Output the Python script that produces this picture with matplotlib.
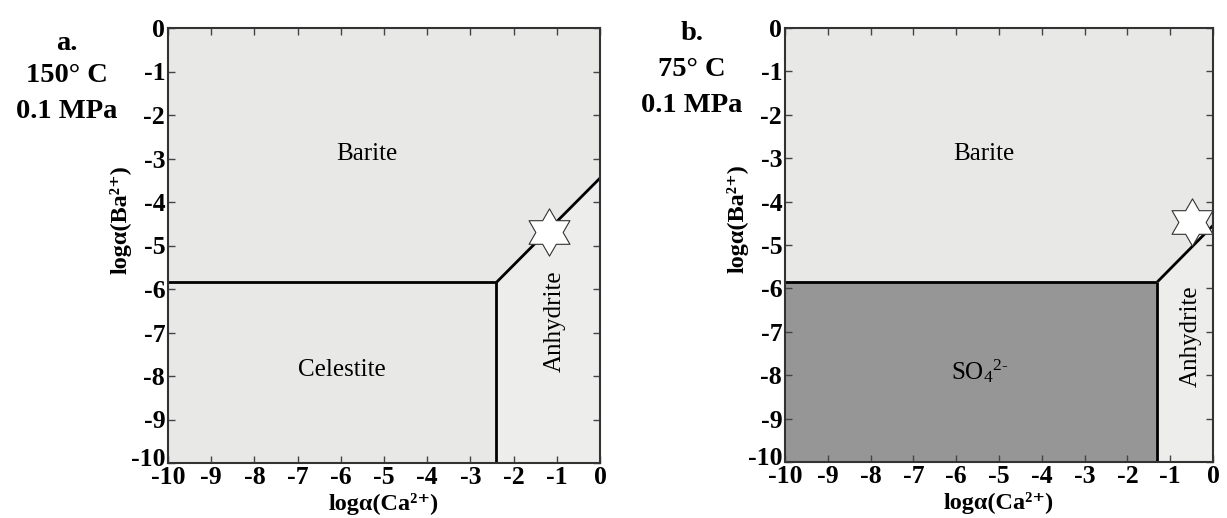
import numpy as np
import matplotlib
matplotlib.use('Agg')
import matplotlib.pyplot as plt
from matplotlib.path import Path
from matplotlib.transforms import ScaledTranslation

plt.rcParams['font.family'] = ['Liberation Serif', 'DejaVu Serif']
plt.rcParams['mathtext.fontset'] = 'custom'
plt.rcParams['mathtext.rm'] = 'Liberation Serif'
plt.rcParams['mathtext.it'] = 'Liberation Serif:italic'
plt.rcParams['mathtext.bf'] = 'Liberation Serif:bold'

# panel a (150 C): boundary lines
a_horiz_x = [-10, -2.4]
a_horiz_y = [-5.85, -5.85]
a_vert_x = [-2.4, -2.4]
a_vert_y = [-5.85, -10]
a_diag_x = [-2.4, 0]
a_diag_y = [-5.85, -3.45]
a_star = (-1.18, -4.69)

# panel b (75 C)
b_horiz_x = [-10, -1.3]
b_horiz_y = [-5.85, -5.85]
b_vert_x = [-1.3, -1.3]
b_vert_y = [-5.85, -10]
b_diag_x = [-1.3, 0]
b_diag_y = [-5.85, -4.55]
b_star = (-0.5, -4.48)

ticks = list(range(-10, 1))
tick_labels = ['-10', '-9', '-8', '-7', '-6', '-5', '-4', '-3', '-2', '-1', '0']

light = '#e8e8e6'
anhy = '#ededec'
dark = '#969696'

# six-pointed star marker (hexagram)
ang = np.pi / 2 + np.arange(12) * np.pi / 6
rad = np.where(np.arange(12) % 2 == 0, 1.0, 1 / np.sqrt(3))
star_verts = np.column_stack([rad * np.cos(ang), rad * np.sin(ang)])
star_marker = Path(np.vstack([star_verts, star_verts[:1]]), closed=True)

fig = plt.figure(figsize=(12.27, 5.18), dpi=100)
W, H = 1227, 518
axa = fig.add_axes([168 / W, (518 - 463) / H, 432 / W, 435 / H])
axb = fig.add_axes([785 / W, (518 - 462) / H, 428 / W, 434 / H])


def draw(ax, hx, hy, vx, vy, dx, dy, star, lower_color, lower_label, lower_pos, barite_pos, anhy_pos):
    ax.set_xlim(-10, 0)
    ax.set_ylim(-10, 0)
    ax.fill_between([-10, 0], -10, 0, color=light, zorder=-1)
    # lower-left field
    ax.fill([-10, vx[0], vx[0], -10], [-10, -10, hy[0], hy[0]], color=lower_color, zorder=0)
    # anhydrite field
    ax.fill([vx[0], 0, 0, dx[0]], [-10, -10, dy[1], dy[0]], color=anhy, zorder=0)
    for xs, ys in [(hx, hy), (vx, vy), (dx, dy)]:
        ax.plot(xs, ys, color='black', lw=2, zorder=2, solid_capstyle='butt')
    ax.plot(star[0], star[1], marker=star_marker, ms=34, mfc='white', mec='#333333', mew=0.8, zorder=3,
            clip_on=False)
    ax.text(barite_pos[0], barite_pos[1], 'Barite', fontsize=18, ha='center', va='center')
    ax.text(lower_pos[0], lower_pos[1], lower_label, fontsize=18, ha='center', va='center')
    ax.text(anhy_pos[0], anhy_pos[1], 'Anhydrite', fontsize=18, rotation=90, ha='center', va='center')
    ax.set_xticks(ticks)
    ax.set_yticks(ticks)
    ax.set_xticklabels(tick_labels)
    ax.set_yticklabels(tick_labels)
    ax.tick_params(direction='in', length=5, width=1, top=True, right=True, labelsize=18.5, pad=2,
                   color='#444444')
    for lab in ax.get_xticklabels() + ax.get_yticklabels():
        lab.set_fontweight('bold')
    # lift the bottom y label a little so it clears the x "-10"
    lab = ax.yaxis.get_major_ticks()[0].label1
    lab.set_transform(lab.get_transform() + ScaledTranslation(0, 6 / 100, fig.dpi_scale_trans))
    for s in ax.spines.values():
        s.set_linewidth(1.5)
        s.set_color('#333333')
    ax.set_xlabel('logα(Ca²⁺)', fontsize=17.5, fontweight='bold', labelpad=3)
    ax.set_ylabel('logα(Ba²⁺)', fontsize=17.5, fontweight='bold')
    ax.yaxis.set_label_coords(-0.085, 0.56)


draw(axa, a_horiz_x, a_horiz_y, a_vert_x, a_vert_y, a_diag_x, a_diag_y, a_star,
     light, 'Celestite', (-5.97, -7.86), (-5.4, -2.9), (-1.04, -6.74))
draw(axb, b_horiz_x, b_horiz_y, b_vert_x, b_vert_y, b_diag_x, b_diag_y, b_star,
     dark, r'SO$_4{}^{2\text{-}}$', (-5.45, -7.9), (-5.35, -2.9), (-0.51, -7.1))

for xc, lines in [(67, [('a.', 43), ('150° C', 76), ('0.1 MPa', 112)]),
                  (692, [('b.', 33), ('75° C', 70), ('0.1 MPa', 106)])]:
    for txt, yc in lines:
        fig.text(xc / W, 1 - yc / H, txt, fontsize=20.5, fontweight='bold', ha='center', va='center')

fig.savefig('out.png', dpi=100)
